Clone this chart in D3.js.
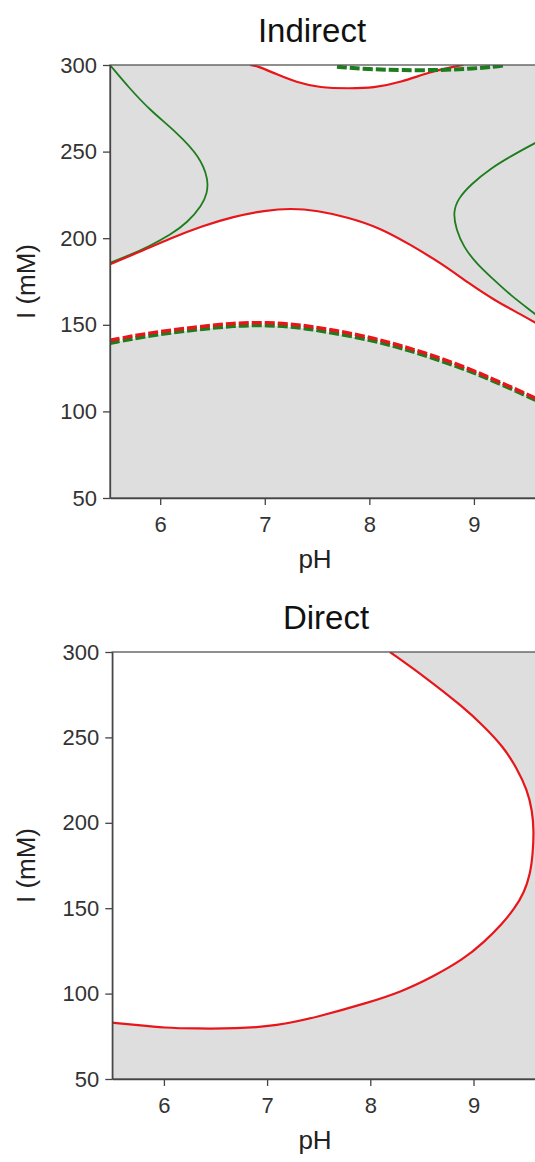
<!DOCTYPE html>
<html lang="en">
<head>
  <meta charset="UTF-8">
  <title>Indirect / Direct</title>
  <script src="https://d3js.org/d3.v7.min.js"></script>
  <style>
    body { margin: 0; background: #fff; overflow: hidden; }
    .axis path, .axis line { fill: none; stroke: #444; stroke-width: 1.3px; }
    .axis text { font-family: "Liberation Sans", Arial, sans-serif; font-size: 22px; fill: #333; }
    .title { font-family: "Liberation Sans", Arial, sans-serif; font-size: 33px; fill: #111; }
    .axis-label { font-family: "Liberation Sans", Arial, sans-serif; font-size: 26px; fill: #222; }
  </style>
</head>
<body>
<svg id="chart" width="535" height="1162"></svg>
<script>
  // ticks
  let phTicks = [6, 7, 8, 9];
  let ionTicks = [50, 100, 150, 200, 250, 300];

  // Indirect panel contours, [pH, I (mM)]
  let indRedMain = [[5.52,185],[5.8,192],[6.1,200],[6.4,207],[6.7,212.5],[7.0,216],[7.25,217.3],[7.5,216],
    [7.8,212],[8.1,206],[8.4,196],[8.7,185],[8.95,174],[9.2,164],[9.45,156],[9.65,149]];
  let indRedTop = [[6.86,300],[6.93,299.4],[7.1,295],[7.3,290],[7.53,286.8],[7.8,286.5],[8.04,286.7],
    [8.3,290],[8.58,296],[8.8,299],[8.9,300]];
  let indGreenDashMain = [[5.52,139.5],[5.9,144],[6.38,147.5],[6.7,149.5],[7.02,150],[7.35,148.5],[7.65,145.4],
    [8.0,141.5],[8.3,136.8],[8.6,131],[8.94,124],[9.25,116],[9.65,105]];
  let indRedDash = [[5.52,141],[5.9,145.5],[6.38,149],[6.7,151],[7.02,151.5],[7.35,150],[7.65,147],
    [8.0,143],[8.3,138],[8.6,132.5],[8.94,125],[9.25,117],[9.65,106]];
  let indGreenDashTop = [[7.69,299],[8.0,297.5],[8.3,297],[8.7,297],[9.0,298],[9.2,299],[9.3,300]];
  let indGreenLeft = [[5.52,300],[5.7,287],[5.9,274],[6.16,261],[6.38,247],[6.46,234],[6.45,226],[6.4,219],
    [6.26,209],[6.1,202],[5.9,195.5],[5.7,190],[5.52,185.8]];
  let indGreenRight = [[9.65,257],[9.4,249],[9.15,240],[8.97,231],[8.85,223],[8.8,215],[8.83,205],[8.9,195],
    [9.03,185],[9.16,177.7],[9.35,167],[9.57,157],[9.65,153]];

  // Direct panel contour
  let dirRed = [[8.19,300],[8.53,285.4],[8.9,267.8],[9.1,256.5],[9.29,244.4],[9.42,232],[9.52,219.3],
    [9.57,207],[9.585,195],[9.575,182],[9.55,170],[9.49,159],[9.4,150],[9.28,141],[9.1,130],[8.9,120],
    [8.61,110],[8.3,101],[7.97,94.5],[7.5,86.5],[7.09,81],[6.7,79.5],[6.3,79.5],[6.0,80],[5.75,81.5],[5.5,83]];

  const RED = "#e8161b", GREEN = "#1d7d1d", GREY = "#dedede";
  const svg = d3.select("#chart");

  function panel(opt) {
    let x = d3.scaleLinear().domain(opt.xDomain).range([opt.left, opt.right]);
    let y = d3.scaleLinear().domain([50, 300]).range([opt.bottom, opt.top]);
    let g = svg.append("g");

    g.append("clipPath").attr("id", opt.id + "-clip")
      .append("rect")
      .attr("x", opt.left).attr("y", opt.top)
      .attr("width", opt.right - opt.left).attr("height", opt.bottom - opt.top);

    let plot = g.append("g").attr("clip-path", "url(#" + opt.id + "-clip)");
    plot.append("rect")
      .attr("x", opt.left).attr("y", opt.top)
      .attr("width", opt.right - opt.left).attr("height", opt.bottom - opt.top)
      .attr("fill", GREY);

    let line = d3.line().x(d => x(d[0])).y(d => y(d[1])).curve(d3.curveBasis);

    // white regions: list of point lists joined edge to edge, closed
    opt.fills.forEach(parts => {
      let d = parts.map((pts, i) => {
        let s = pts.length > 2 ? line(pts) : "M" + pts.map(p => x(p[0]) + "," + y(p[1])).join("L");
        return i == 0 ? s : s.replace(/^M/, "L");
      }).join("") + "Z";
      plot.append("path").attr("d", d).attr("fill", "#fff");
    });
    opt.lines.forEach(l => {
      plot.append("path").attr("d", line(l.pts))
        .attr("fill", "none")
        .attr("stroke", l.color)
        .attr("stroke-width", l.width)
        .attr("stroke-dasharray", l.dash || null)
        .attr("stroke-linejoin", "round");
    });

    // frame
    g.append("rect")
      .attr("x", opt.left).attr("y", opt.top)
      .attr("width", opt.right - opt.left).attr("height", opt.bottom - opt.top)
      .attr("fill", "none").attr("stroke", "#555").attr("stroke-width", 1.3);

    g.append("g").attr("class", "axis")
      .attr("transform", "translate(0," + opt.bottom + ")")
      .call(d3.axisBottom(x).tickValues(phTicks).tickFormat(d3.format("d"))
        .tickSize(7).tickPadding(11).tickSizeOuter(0));
    g.append("g").attr("class", "axis")
      .attr("transform", "translate(" + opt.left + ",0)")
      .call(d3.axisLeft(y).tickValues(ionTicks).tickFormat(d3.format("d"))
        .tickSize(7).tickPadding(6).tickSizeOuter(0));

    g.append("text").attr("class", "title")
      .attr("x", opt.titleX).attr("y", opt.top - 23)
      .attr("text-anchor", "middle").text(opt.title);
    g.append("text").attr("class", "axis-label")
      .attr("x", 315).attr("y", opt.bottom + 70)
      .attr("text-anchor", "middle").text("pH");
    g.append("text").attr("class", "axis-label")
      .attr("transform", "translate(35," + ((opt.top + opt.bottom) / 2) + ") rotate(-90)")
      .attr("text-anchor", "middle").text("I (mM)");
  }

  // Indirect
  panel({
    id: "ind", title: "Indirect", titleX: 312,
    xDomain: [5.52, 10], left: 110, right: 578.5, top: 65, bottom: 498,
    fills: [
      [indRedMain, indGreenDashMain.slice().reverse()],
      [indRedTop]
    ],
    lines: [
      {pts: indGreenLeft, color: GREEN, width: 1.8},
      {pts: indGreenRight, color: GREEN, width: 1.8},
      {pts: indRedMain, color: RED, width: 2.2},
      {pts: indRedTop, color: RED, width: 2.2},
      {pts: indGreenDashMain, color: GREEN, width: 4, dash: "10,3"},
      {pts: indRedDash, color: RED, width: 3.5, dash: "10,3"},
      {pts: indGreenDashTop, color: GREEN, width: 4, dash: "10,3"}
    ]
  });

  // Direct
  panel({
    id: "dir", title: "Direct", titleX: 326,
    xDomain: [5.5, 10], left: 112.3, right: 576.7, top: 652, bottom: 1079,
    fills: [
      [[[5.5, 300]], dirRed]
    ],
    lines: [
      {pts: dirRed, color: RED, width: 2.2}
    ]
  });
</script>
</body>
</html>
